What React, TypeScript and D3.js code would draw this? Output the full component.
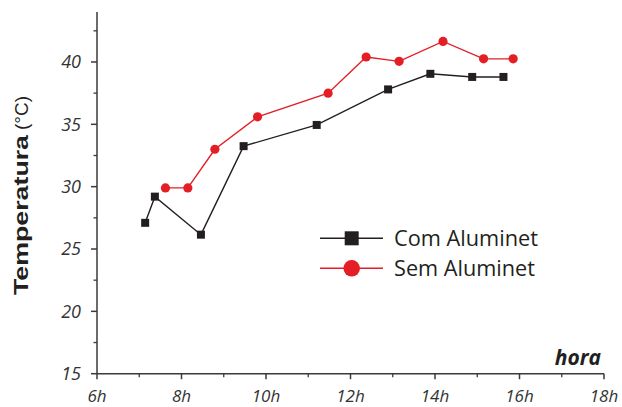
import React from "react";
import * as d3 from "d3";

const comHours = [7.14, 7.37, 8.46, 9.47, 11.2, 12.89, 13.89, 14.88, 15.62];
const comTemps = [27.1, 29.2, 26.15, 33.25, 34.95, 37.8, 39.05, 38.8, 38.8];
const semHours = [7.62, 8.15, 8.79, 9.8, 11.47, 12.37, 13.15, 14.19, 15.15, 15.85];
const semTemps = [29.9, 29.9, 33.0, 35.6, 37.5, 40.4, 40.05, 41.65, 40.25, 40.25];
const xMajorTicks = [6, 8, 10, 12, 14, 16, 18];
const xMinorTicks = [7, 9, 11, 13, 15, 17];
const yMajorTicks = [15, 20, 25, 30, 35, 40];
const yMinorTicks = [17.5, 22.5, 27.5, 32.5, 37.5, 42.5];
const seriesNames = ["Com Aluminet", "Sem Aluminet"];

const W = 622;
const H = 407;
const AXIS = "#3a3a3a";
const BLACK = "#231f20";
const RED = "#e31e24";
const TICKFONT = "'Open Sans', 'Noto Sans', sans-serif";

export default function App() {
  const x = d3.scaleLinear().domain([6, 18]).range([97, 604]);
  const y = d3.scaleLinear().domain([15, 44]).range([373.7, 12.1]);
  const line = d3
    .line<[number, number]>()
    .x((d) => x(d[0]))
    .y((d) => y(d[1]));
  const com: [number, number][] = comHours.map((h, i) => [h, comTemps[i]]);
  const sem: [number, number][] = semHours.map((h, i) => [h, semTemps[i]]);
  const x0 = x.range()[0];
  const yb = y.range()[0];

  return (
    <svg
      width={W}
      height={H}
      style={{ position: "absolute", left: 0, top: 0, background: "#fff" }}
    >
      {/* axes */}
      <line x1={x0} x2={x0} y1={y(44)} y2={yb} stroke={AXIS} strokeWidth={1.5} />
      <line x1={x0} x2={x(18)} y1={yb} y2={yb} stroke={AXIS} strokeWidth={1.5} />
      {yMajorTicks.map((t) => (
        <g key={"ym" + t}>
          <line x1={x0 - 6} x2={x0} y1={y(t)} y2={y(t)} stroke={AXIS} strokeWidth={1.5} />
          <text
            x={x0 - 16}
            y={y(t)}
            dy="0.35em"
            textAnchor="end"
            fontFamily={TICKFONT}
            fontStyle="italic"
            fontSize={18}
            fill="#333"
          >
            {t}
          </text>
        </g>
      ))}
      {yMinorTicks.map((t) => (
        <line key={"yn" + t} x1={x0 - 3.5} x2={x0} y1={y(t)} y2={y(t)} stroke={AXIS} strokeWidth={1.3} />
      ))}
      {xMajorTicks.map((t) => (
        <g key={"xm" + t}>
          <line x1={x(t)} x2={x(t)} y1={yb} y2={yb + 5.5} stroke={AXIS} strokeWidth={1.5} />
          <text
            x={x(t)}
            y={402}
            textAnchor="middle"
            fontFamily={TICKFONT}
            fontStyle="italic"
            fontSize={17}
            fill="#333"
          >
            {t + "h"}
          </text>
        </g>
      ))}
      {xMinorTicks.map((t) => (
        <line key={"xn" + t} x1={x(t)} x2={x(t)} y1={yb} y2={yb + 3.5} stroke={AXIS} strokeWidth={1.3} />
      ))}

      {/* axis titles */}
      <text
        x={601}
        y={365}
        textAnchor="end"
        fontFamily={TICKFONT}
        fontStyle="italic"
        fontWeight="bold"
        fontSize={21}
        fill="#231f20"
      >
        hora
      </text>
      <g transform="translate(28,295) rotate(-90)">
        <text
          x={0}
          y={0}
          fontFamily="'Liberation Sans', Arial, sans-serif"
          fontWeight="bold"
          fontSize={21}
          fill="#231f20"
          textLength={160}
          lengthAdjust="spacingAndGlyphs"
        >
          Temperatura
        </text>
        <text
          x={165}
          y={0}
          fontFamily="'Liberation Sans', Arial, sans-serif"
          fontSize={19}
          fill="#231f20"
        >
          (°C)
        </text>
      </g>

      {/* series */}
      <path d={line(com) || ""} fill="none" stroke={BLACK} strokeWidth={1.4} />
      <path d={line(sem) || ""} fill="none" stroke={RED} strokeWidth={1.4} />
      {com.map((d, i) => (
        <rect key={"c" + i} x={x(d[0]) - 4} y={y(d[1]) - 4} width={8} height={8} fill={BLACK} />
      ))}
      {sem.map((d, i) => (
        <circle key={"s" + i} cx={x(d[0])} cy={y(d[1])} r={4.6} fill={RED} />
      ))}

      {/* legend */}
      <g>
        <line x1={320} x2={383} y1={238.3} y2={238.3} stroke={BLACK} strokeWidth={1.4} />
        <rect x={351.7 - 7} y={238.3 - 7} width={14} height={14} fill={BLACK} />
        <text
          x={394}
          y={238.3}
          dy="0.36em"
          fontFamily="'Open Sans', sans-serif"
          fontSize={22}
          fill="#231f20"
          textLength={144}
          lengthAdjust="spacingAndGlyphs"
        >
          {seriesNames[0]}
        </text>
        <line x1={320} x2={383} y1={268.3} y2={268.3} stroke={RED} strokeWidth={1.4} />
        <circle cx={351.7} cy={268.3} r={8.3} fill={RED} />
        <text
          x={394}
          y={268.3}
          dy="0.36em"
          fontFamily="'Open Sans', sans-serif"
          fontSize={22}
          fill="#231f20"
          textLength={141}
          lengthAdjust="spacingAndGlyphs"
        >
          {seriesNames[1]}
        </text>
      </g>
    </svg>
  );
}
